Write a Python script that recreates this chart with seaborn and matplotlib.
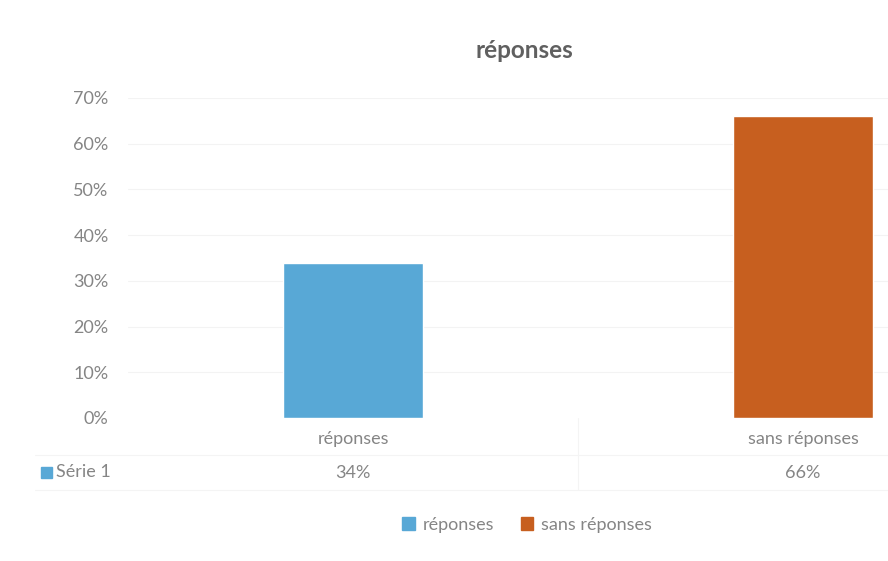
import matplotlib
matplotlib.use("Agg")
import matplotlib.pyplot as plt
import matplotlib.patches as mpatches
import seaborn as sns
import pandas as pd

categories = ["réponses", "sans réponses"]
values = [0.34, 0.66]
value_labels = ["34%", "66%"]
series_name = "Série 1"
yticks = [0.0, 0.1, 0.2, 0.3, 0.4, 0.5, 0.6, 0.7]
colors = ["#58A8D6", "#C75F1F"]

sns.set_theme(style="white")
plt.rcParams["font.family"] = ["Lato", "DejaVu Sans"]
grey = "#858585"
fs = 13

df = pd.DataFrame({"cat": categories, "val": values})

W, H = 888, 561
fig = plt.figure(figsize=(W / 100, H / 100), dpi=100)
# plot area: left 128px .. right edge (chart cropped on the right), y 0% at 418px, 70% at 98px
ax = fig.add_axes([128 / W, 1 - 418 / H, (W - 128) / W, (418 - 98) / H])

sns.barplot(data=df, x="cat", y="val", hue="cat", palette=colors,
            width=0.311, legend=False, ax=ax, saturation=1)

ax.set_xlim(-0.5, (W - 128) / 450 - 0.5)
ax.set_ylim(0, 0.7)
ax.set_yticks(yticks)
ax.set_yticklabels([f"{int(round(t * 100))}%" for t in yticks], color=grey, fontsize=fs)
ax.tick_params(axis="y", length=0, pad=14)
ax.set_xticks([])
ax.set_xlabel("")
ax.set_ylabel("")
for s in ax.spines.values():
    s.set_visible(False)
for t in yticks[1:]:
    ax.axhline(t, color="#f3f3f3", lw=0.8, zorder=0)

# category labels and data table
for i, c in enumerate(categories):
    ax.text(i, -0.045, c, ha="center", va="center", color=grey, fontsize=fs,
            transform=ax.transData, clip_on=False)
    ax.text(i, -0.121, value_labels[i], ha="center", va="center", color=grey,
            fontsize=fs, transform=ax.transData, clip_on=False)

fig.text(56 / W, 1 - 472 / H, series_name, ha="left", va="center", color=grey, fontsize=fs)
fig.patches.append(mpatches.Rectangle((41 / W, 1 - 478 / H), 11 / W, 11 / H,
                                      transform=fig.transFigure, color=colors[0]))
# faint table lines
for yy in [455, 490]:
    fig.add_artist(plt.Line2D([35 / W, 1], [1 - yy / H, 1 - yy / H], color="#f4f4f4", lw=0.8))
fig.add_artist(plt.Line2D([578 / W, 578 / W], [1 - 418 / H, 1 - 490 / H], color="#f4f4f4", lw=0.8))

fig.text(524 / W, 1 - 50 / H, "réponses", ha="center", va="center", color="#606060",
         fontsize=17.5, fontweight="bold")

handles = [mpatches.Patch(color=colors[i], label=categories[i]) for i in range(2)]
leg = fig.legend(handles=handles, loc="center", bbox_to_anchor=(527 / W, 1 - 525 / H),
                 ncol=2, frameon=False, handlelength=0.7, handleheight=0.7,
                 handletextpad=0.4, columnspacing=1.5, prop={"size": fs})
for t in leg.get_texts():
    t.set_color(grey)

fig.savefig("out.png", dpi=100)
